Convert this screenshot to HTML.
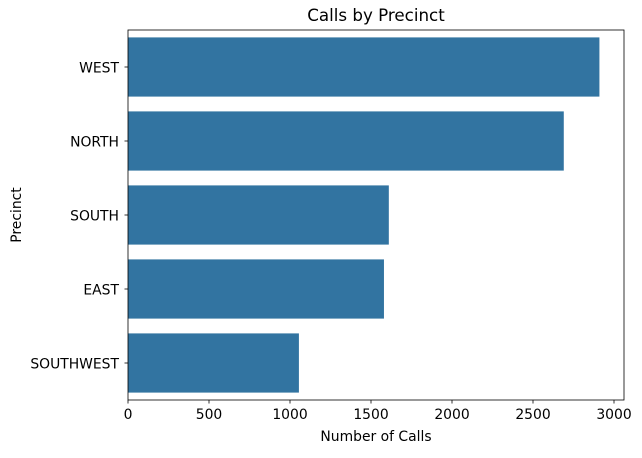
<!DOCTYPE html>
<html><head><meta charset="utf-8"><style>
body{margin:0;background:#fff}
text{font-family:"DejaVu Sans","Liberation Sans",sans-serif;fill:#000}
</style></head><body>
<svg id="chart" width="642" height="453" xmlns="http://www.w3.org/2000/svg">
<text x="376" y="21" font-size="16.7" text-anchor="middle">Calls by Precinct</text>
<g id="bars"></g>
<g id="axes"></g>
<text x="376" y="441" font-size="13.9" text-anchor="middle">Number of Calls</text>
<text x="21" y="215" font-size="13.9" text-anchor="middle" transform="rotate(-90 21 215)">Precinct</text>
</svg>
<script>
const categories=["WEST","NORTH","SOUTH","EAST","SOUTHWEST"];
const values=[2910,2690,1610,1580,1055];
const xTicks=[0,500,1000,1500,2000,2500,3000];
const L=128,R=624,T=30,B=400;
const x=v=>L+v*0.162;
const band=(B-T)/categories.length;
const y=i=>T+band*i;
const ns="http://www.w3.org/2000/svg";
const bars=document.getElementById('bars'),axes=document.getElementById('axes');
function mk(tag,attrs,parent){const e=document.createElementNS(ns,tag);for(const k in attrs)e.setAttribute(k,attrs[k]);parent.appendChild(e);return e;}
categories.forEach((c,i)=>{
  const r=mk('rect',{x:L,y:y(i)+band*0.1,width:x(values[i])-L,height:band*0.8,fill:'#3274a1'},bars);
  
  
  const yc=y(i)+band/2;
  const t=mk('line',{x1:L-3.5,x2:L,y1:yc,y2:yc,stroke:'#000','stroke-width':0.8},axes);
  
  
  const lb=mk('text',{x:L-9,y:yc+5.5,'font-size':13.9,'text-anchor':'end'},axes);
  lb.textContent=c;
  
  
});
xTicks.forEach(v=>{
  const t=mk('line',{x1:x(v),x2:x(v),y1:B,y2:B+3.5,stroke:'#000','stroke-width':0.8},axes);
  
  
  const lb=mk('text',{x:x(v),y:B+19,'font-size':13.9,'text-anchor':'middle'},axes);
  lb.textContent=v;
  
  
});
const frame=mk('rect',{x:L,y:T,width:R-L,height:B-T,fill:'none',stroke:'#000','stroke-width':0.8},axes);


</script>
</body></html>
